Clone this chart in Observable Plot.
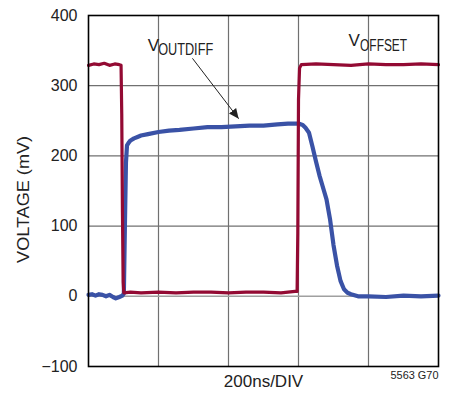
<!DOCTYPE html>
<html>
<head>
<meta charset="utf-8">
<script src="https://cdn.jsdelivr.net/npm/d3@7"></script>
<script src="https://cdn.jsdelivr.net/npm/@observablehq/plot@0.6"></script>
<style>
  html, body { margin: 0; padding: 0; background: #fff; }
  #chart { width: 450px; height: 398px; }
</style>
</head>
<body>
<div id="chart"></div>
<script>
// Time axis in ns (5 divisions of 200 ns), voltage in mV
const xGridTicks = [0, 200, 400, 600, 800, 1000];
const yTicks = [-100, 0, 100, 200, 300, 400];

// VOFFSET trace (red)
const offsetT = [0, 15, 30, 45, 60, 75, 88, 93, 95, 97, 99, 101, 120, 150, 200, 250, 300, 350, 400, 450, 500, 550, 590, 596, 598, 600, 603, 608, 650, 700, 750, 800, 850, 900, 950, 1000];
const offsetV = [329, 331, 330, 332, 329, 331, 330, 329, 260, 120, 20, 5, 6, 5, 6, 5, 6, 6, 5, 6, 6, 5, 7, 7, 90, 280, 325, 330, 331, 330, 329, 331, 330, 330, 331, 330];

// VOUTDIFF trace (blue)
const outT = [0, 10, 20, 30, 40, 50, 60, 70, 78, 88, 97, 101, 104, 107, 110, 115, 120, 130, 140, 150, 170, 200, 230, 260, 300, 340, 380, 420, 460, 500, 540, 570, 600, 612, 620, 630, 640, 650, 660, 670, 680, 690, 700, 710, 720, 730, 740, 750, 770, 800, 850, 900, 950, 1000];
const outV = [2, 3, 1, 3, 2, 0, 2, -1, -3, -1, 1, 4, 100, 190, 215, 219, 222, 225, 227, 229, 231, 234, 236, 237, 239, 241, 241, 242, 243, 243, 245, 246, 246, 244, 240, 233, 213, 192, 172, 155, 138, 110, 73, 44, 22, 10, 5, 3, 0, 0, -1, 1, 0, 1];

// Annotations
const arrowFrom = {x: 297, y: 339};
const arrowTo = {x: 429, y: 253};

const offsetData = offsetT.map((t, i) => ({t, v: offsetV[i]}));
const outData = outT.map((t, i) => ({t, v: outV[i]}));

const RED = "#930a33";
const BLUE = "#3a52a6";
const NARROW = "'Liberation Sans Narrow', 'Liberation Sans', sans-serif";

const filledArrow = (color) => {
  const m = d3.create("svg:marker")
    .attr("viewBox", "-10 -5 10 10")
    .attr("markerWidth", 10)
    .attr("markerHeight", 10)
    .attr("markerUnits", "userSpaceOnUse")
    .attr("refX", 0)
    .attr("refY", 0)
    .attr("orient", "auto");
  m.append("path").attr("d", "M-10,-4.5L0,0L-10,4.5Z").attr("fill", "#222").attr("stroke", "none");
  return m.node();
};

const chart = Plot.plot({
  width: 450,
  height: 398,
  marginLeft: 88,
  marginRight: 12,
  marginTop: 15,
  marginBottom: 32,
  style: {fontFamily: "'Liberation Sans', Arial, sans-serif", fontSize: "16px", color: "#222", background: "#fff"},
  x: {domain: [0, 1000], axis: null},
  y: {domain: [-100, 400], axis: null},
  marks: [
    Plot.gridX(xGridTicks.slice(1, -1), {stroke: "#707070", strokeOpacity: 1, strokeWidth: 1.2}),
    Plot.gridY(yTicks.filter(d => d !== 0 && d !== -100 && d !== 400), {stroke: "#707070", strokeOpacity: 1, strokeWidth: 1.2}),
    Plot.gridY([0], {stroke: "#a0a0a0", strokeOpacity: 1, strokeWidth: 1.5}),
    Plot.axisY(yTicks, {tickSize: 0, tickPadding: 11, fontSize: 16, label: null, fill: "#222"}),
    Plot.line(outData, {x: "t", y: "v", stroke: BLUE, strokeWidth: 4.2}),
    Plot.line(offsetData, {x: "t", y: "v", stroke: RED, strokeWidth: 3.2}),
    Plot.link([0], {x1: () => arrowFrom.x, y1: () => arrowFrom.y, x2: () => arrowTo.x, y2: () => arrowTo.y, stroke: "#222", strokeWidth: 1, markerEnd: filledArrow}),
    Plot.text(["V"], {x: 169, y: 350, text: d => d, textAnchor: "start", lineAnchor: "bottom", fontSize: 17, fill: "#222"}),
    Plot.text(["OUTDIFF"], {x: 199, y: 344, text: d => d, textAnchor: "start", lineAnchor: "bottom", fontSize: 16, fill: "#222"}),
    Plot.text(["V"], {x: 743, y: 357, text: d => d, textAnchor: "start", lineAnchor: "bottom", fontSize: 17, fill: "#222"}),
    Plot.text(["OFFSET"], {x: 776, y: 350, text: d => d, textAnchor: "start", lineAnchor: "bottom", fontSize: 16, fill: "#222"}),
    Plot.text(["VOLTAGE (mV)"], {x: 0, y: 138, text: d => d, dx: -65, rotate: -90, fontSize: 16.5, fill: "#222"}),
    Plot.text(["200ns/DIV"], {x: 500, y: -100, text: d => d, lineAnchor: "top", dy: 8, fontSize: 17, fill: "#222"}),
    Plot.text(["5563 G70"], {x: 1000, y: -100, text: d => d, textAnchor: "end", lineAnchor: "top", dy: 5, fontSize: 10, fill: "#222"}),
    Plot.frame({stroke: "#000", strokeWidth: 1.6})
  ]
});
document.getElementById("chart").appendChild(chart);

// condense the narrow-face labels to the reference's widths
const condensed = {"OUTDIFF": 55, "OFFSET": 47, "VOLTAGE (mV)": 127, "5563 G70": 48};
d3.select(chart).selectAll("text").each(function () {
  const s = this.textContent;
  if (condensed[s]) {
    d3.select(this).attr("textLength", condensed[s]).attr("lengthAdjust", "spacingAndGlyphs");
  }
});
</script>
</body>
</html>
